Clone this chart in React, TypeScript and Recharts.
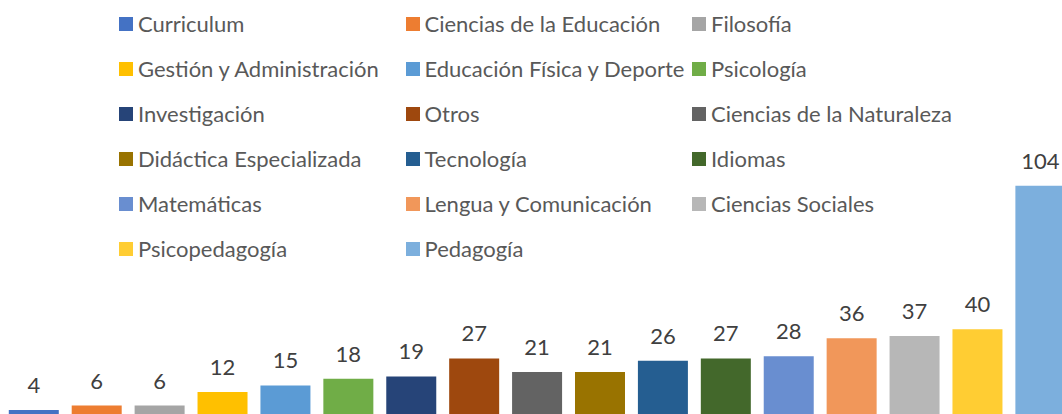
import { Bar, BarChart, Cell, LabelList, Legend, XAxis, YAxis } from "recharts"

const categories = [
  "Curriculum",
  "Ciencias de la Educación",
  "Filosofía",
  "Gestión y Administración",
  "Educación Física y Deporte",
  "Psicología",
  "Investigación",
  "Otros",
  "Ciencias de la Naturaleza",
  "Didáctica Especializada",
  "Tecnología",
  "Idiomas",
  "Matemáticas",
  "Lengua y Comunicación",
  "Ciencias Sociales",
  "Psicopedagogía",
  "Pedagogía",
]

const values = [4, 6, 6, 12, 15, 18, 19, 27, 21, 21, 26, 27, 28, 36, 37, 40, 104]

const colors = [
  "#4472C4",
  "#ED7D31",
  "#A5A5A5",
  "#FFC000",
  "#5B9BD5",
  "#70AD47",
  "#264478",
  "#9E480E",
  "#636363",
  "#997300",
  "#255E91",
  "#43682B",
  "#698ED0",
  "#F1975A",
  "#B7B7B7",
  "#FFCD33",
  "#7CAFDD",
]

const data = categories.map((name, i) => ({ name, value: values[i] }))

const FONT = "Lato, 'Noto Sans', sans-serif"

function LegendGrid() {
  return (
    <div style={{ position: "relative", width: 1062, height: 270 }}>
      {categories.map((name, i) => {
        const col = i % 3
        const row = Math.floor(i / 3)
        return (
          <div
            key={name}
            style={{
              position: "absolute",
              left: 119 + col * 286.5,
              top: 23.5 + row * 45 - 14,
              height: 28,
              display: "flex",
              alignItems: "center",
              whiteSpace: "nowrap",
            }}
          >
            <span style={{ width: 14, height: 14, background: colors[i], marginRight: 5, display: "inline-block" }} />
            <span style={{ fontFamily: FONT, fontSize: 22, color: "#595959", lineHeight: "28px" }}>{name}</span>
          </div>
        )
      })}
    </div>
  )
}

export default function App() {
  return (
    <div style={{ position: "absolute", left: 0, top: 0, width: 1062, height: 414, overflow: "hidden", background: "#fff" }}>
      <BarChart
        width={1075}
        height={430}
        data={data}
        margin={{ top: 150, right: 3, bottom: 11, left: 2.5 }}
        barCategoryGap="10%"
      >
        <XAxis dataKey="name" hide />
        <YAxis hide domain={[0, 120]} />
        <Legend
          layout="vertical"
          align="center"
          verticalAlign="middle"
          wrapperStyle={{ top: 0, left: 0 }}
          content={() => <LegendGrid />}
        />
        <Bar dataKey="value" isAnimationActive={false}>
          {data.map((d, i) => (
            <Cell key={d.name} fill={colors[i]} />
          ))}
          <LabelList dataKey="value" position="top" offset={17} fill="#404040" fontSize={22} fontFamily={FONT} />
        </Bar>
      </BarChart>
    </div>
  )
}
